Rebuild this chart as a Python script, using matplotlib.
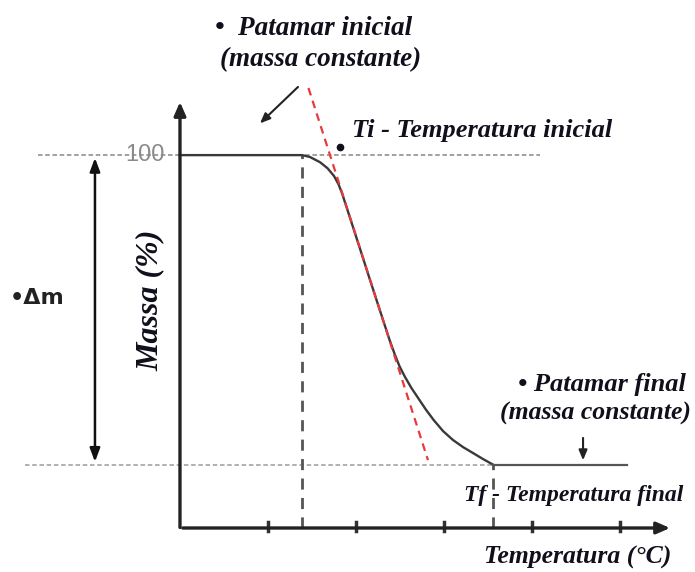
import matplotlib.pyplot as plt

# schematic TGA curve: temperature (°C) vs mass (%)
temp = [138.6, 147.7, 159.1, 167.6, 175.0, 180.1, 184.1, 190.3, 197.7, 205.1,
        214.2, 223.4, 230.7, 238.2, 244.3, 249.4, 255.7, 263.1, 270.5, 279.0,
        288.1, 298.9, 310.2, 321.6, 333.0, 344.3, 355.7]
mass = [100.0, 99.5, 98.1, 96.5, 94.4, 92.2, 89.8, 85.3, 79.9, 74.5,
        67.8, 61.1, 55.8, 50.4, 46.4, 43.4, 40.5, 37.5, 34.9, 31.9,
        29.0, 26.0, 23.6, 21.7, 20.1, 18.5, 17.0]
tangent_t = [146.0, 281.8]
tangent_m = [118.0, 18.2]
t_ini, t_fin = 138.6, 355.7
m_ini, m_fin = 100, 17
x_ticks = [100, 200, 300, 400, 500]

ink = '#10101c'
serif = dict(family='Liberation Serif', weight='bold', style='italic', color=ink)

fig = plt.figure(figsize=(6.95, 5.72), dpi=100)
ax = fig.add_axes([0, 0, 1, 1])
ax.set_xlim(-204.5, 585.2)
ax.set_ylim(-11.8, 141.6)
ax.axis('off')

# axes with arrows
ax.annotate('', xy=(560, 0), xytext=(0, 0),
            arrowprops=dict(arrowstyle='-|>,head_length=0.8,head_width=0.35', lw=2.4, color='#222'))
ax.annotate('', xy=(0, 115), xytext=(0, -0.6),
            arrowprops=dict(arrowstyle='-|>,head_length=0.8,head_width=0.35', lw=2.4, color='#222'))
for t in x_ticks:
    ax.plot([t, t], [-0.8, 1.6], color='#333', lw=2.5)

# reference dotted lines
ax.plot([-161, 409], [m_ini, m_ini], color='#999', lw=1.3, ls=(0, (2.5, 1.5)))
ax.plot([-176, t_fin], [m_fin, m_fin], color='#aaa', lw=1.3, ls=(0, (2.5, 1.5)))
ax.plot([t_ini, t_ini], [0, m_ini], color='#555', lw=2, ls=(0, (4, 3)))
ax.plot([t_fin, t_fin], [0, m_fin], color='#555', lw=2, ls=(0, (4, 3)))

# curve
ax.plot([0] + temp, [m_ini] + mass, color='#3a3a3a', lw=1.7)
ax.plot([t_fin, 508], [m_fin, m_fin], color='#555', lw=1.6)
ax.plot(tangent_t, tangent_m, color='#e8393c', lw=1.6, ls=(0, (3.5, 2.5)))

ax.text(-17, m_ini, '100', ha='right', va='center', fontsize=17, color='#8a8a8a',
        family='Liberation Sans')

# delta m arrow
ax.annotate('', xy=(-96.6, m_fin), xytext=(-96.6, m_ini),
            arrowprops=dict(arrowstyle='<|-|>,head_length=0.8,head_width=0.3', lw=1.8, color='#111'))
ax.text(-193, 61.7, '•Δm', ha='left', va='center', fontsize=16, weight='bold',
        family='DejaVu Sans', color='#222')

# labels
ax.text(-34, 61, 'Massa (%)', rotation=90, ha='center', va='center', fontsize=23, **serif)
ax.text(452, -7.8, 'Temperatura (°C)', ha='center', va='center', fontsize=18.5, **serif)

ax.text(152, 134, '•  Patamar inicial', ha='center', va='center', fontsize=19.5, **serif)
ax.text(160, 125.5, '(massa constante)', ha='center', va='center', fontsize=19.5, **serif)
ax.annotate('', xy=(88.6, 108), xytext=(136.4, 118.8),
            arrowprops=dict(arrowstyle='-|>,head_length=0.6,head_width=0.25', lw=1.5, color='#222'))

ax.plot([181.8], [102.1], 'o', color=ink, ms=4.5)
ax.text(195.5, 106.7, 'Ti - Temperatura inicial', ha='left', va='center', fontsize=19, **serif)

ax.text(480, 38.6, '• Patamar final', ha='center', va='center', fontsize=19, **serif)
ax.text(472, 30.8, '(massa constante)', ha='center', va='center', fontsize=18.5, **serif)
ax.annotate('', xy=(458, 17.4), xytext=(458, 24.9),
            arrowprops=dict(arrowstyle='-|>,head_length=0.6,head_width=0.25', lw=1.5, color='#222'))
ax.text(447.7, 8.8, 'Tf - Temperatura final', ha='center', va='center', fontsize=17, **serif)

fig.savefig('out.png', dpi=100)
